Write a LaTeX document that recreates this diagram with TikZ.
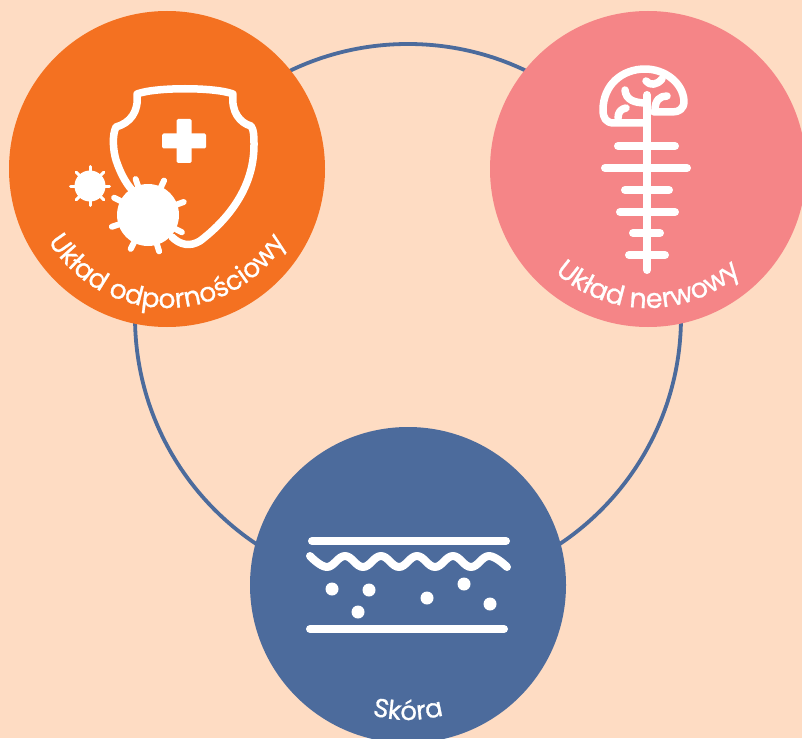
\documentclass[tikz,border=0pt]{standalone}
\usepackage{fontspec}
\newfontfamily\lblfont{Poppins}[FakeBold=0.8]
\usetikzlibrary{positioning,decorations.text,calc}
\definecolor{peach}{HTML}{FEDCC3}
\definecolor{orangeC}{HTML}{F47121}
\definecolor{pinkC}{HTML}{F58587}
\definecolor{blueC}{HTML}{4C6B9C}

\begin{document}
\begin{tikzpicture}[
        x=1pt, y=-1pt,
        bubble/.style={circle, minimum size=316pt, inner sep=0pt, outer sep=0pt},
        ring/.style={circle, draw=blueC, line width=3.8pt, minimum size=546pt, inner sep=0pt},
        icon/.style={draw=white, line cap=round, line join=round, line width=7.5pt},
        spine/.style={icon, line width=8pt},
        dot/.style={circle, fill=white, minimum size=13pt, inner sep=0pt},
        label/.style 2 args={decorate, decoration={text along path, text align=center,
            text={|\lblfont\fontsize{#1}{#1}\selectfont\color{white}|#2}}}
    ]
    \fill[peach] (0,0) rectangle (802,738);
    \path[use as bounding box] (0,0) rectangle (802,738);

    \begin{scope}
    \clip (0,0) rectangle (802,738);
    \node[ring]   (loop)   at (408,317) {};
    \node[bubble, fill=orangeC] (odp)  at (167,169) {};
    \node[bubble, fill=pinkC]   (nerw) at (648,169) {};
    \node[bubble, fill=blueC]   (skin) at (408,585) {};
    \end{scope}

    % tarcza
    \draw[icon] (172,237) .. controls (180,245) and (190,247) .. (200,241)
        .. controls (225,222) and (254,190) .. (254,145)
        .. controls (254,137) and (254,130) .. (251,126)
        .. controls (240,123) and (231,112) .. (233,94)
        .. controls (215,87) and (155,87) .. (137,94)
        .. controls (139,112) and (130,123) .. (116,127)
        .. controls (112,135) and (113,150) .. (116,160)
        .. controls (120,172) and (125,182) .. (132,190);
    \fill[white, rounded corners=1.5pt] (176.5,119) rectangle (191.5,163);
    \fill[white, rounded corners=1.5pt] (162,133.5) rectangle (206,148.5);

    % wirusy
    \node[circle, fill=white, minimum size=62pt, inner sep=0pt] (vir1) at (148,215) {};
    \foreach \ang in {20,65,109,153,198,243,287,333}
        \draw[icon, line width=6pt] (vir1.center) -- ++(\ang:38pt);
    \node[circle, fill=white, minimum size=31pt, inner sep=0pt] (vir2) at (90,186) {};
    \foreach \ang in {0,45,...,315}
        \draw[icon, line width=3pt] (vir2.center) -- ++(\ang:19.5pt);

    % mozg
    \draw[icon] (647,123) -- (614,123)
        .. controls (606,123) and (603,118) .. (603,110)
        .. controls (603,85) and (622,69) .. (645,69)
        .. controls (665,69) and (683,83) .. (684,101)
        .. controls (684,109) and (679,112) .. (672,112) -- (654,112);
    \draw[icon] (625,90) .. controls (626,100) and (634,103) .. (647,103);
    \draw[icon] (655,110) .. controls (655,100) and (660,96) .. (667,96);
    \draw[icon] (618,118) .. controls (618,112) and (621,109) .. (626,108);
    \draw[icon] (646,81) .. controls (650,86) and (657,85) .. (662,79);

    % rdzen
    \draw[spine] (647,95) -- (647,270);
    \draw[spine] (618,146) -- (675,146);
    \draw[spine] (605,168) -- (687,168);
    \draw[spine] (625,190) -- (669,190);
    \draw[spine] (620,212) -- (675,212);
    \draw[spine] (633,233) -- (660,233);
    \draw[spine] (629,255) -- (665,255);

    % skora
    \draw[spine] (312,541) -- (506,541);
    \draw[spine] (310,629) -- (504,629);
    \draw[spine] plot[smooth, tension=0.7] coordinates {(310,556) (327,567) (345,556) (363,567)
        (381,556) (399,567) (417,556) (435,567) (453,556) (471,567) (489,556) (507,567)};
    \foreach \px/\py/\nm in {332/589/a, 369/590/b, 358/612/c, 427/598/d, 464/584/e, 490/604/f}
        \node[dot] (dot\nm) at (\px,\py) {};

    % podpisy
    \path[label={26.5pt}{Układ odpornościowy}] ($(odp)+(190:139pt)$) arc[start angle=190, end angle=350, radius=139pt];
    \path[label={27pt}{Układ nerwowy}] ($(nerw)+(205:139pt)$) arc[start angle=205, end angle=335, radius=139pt];
    \path[label={26pt}{Skóra}] ($(skin)+(240:135pt)$) arc[start angle=240, end angle=300, radius=135pt];
\end{tikzpicture}
\end{document}
